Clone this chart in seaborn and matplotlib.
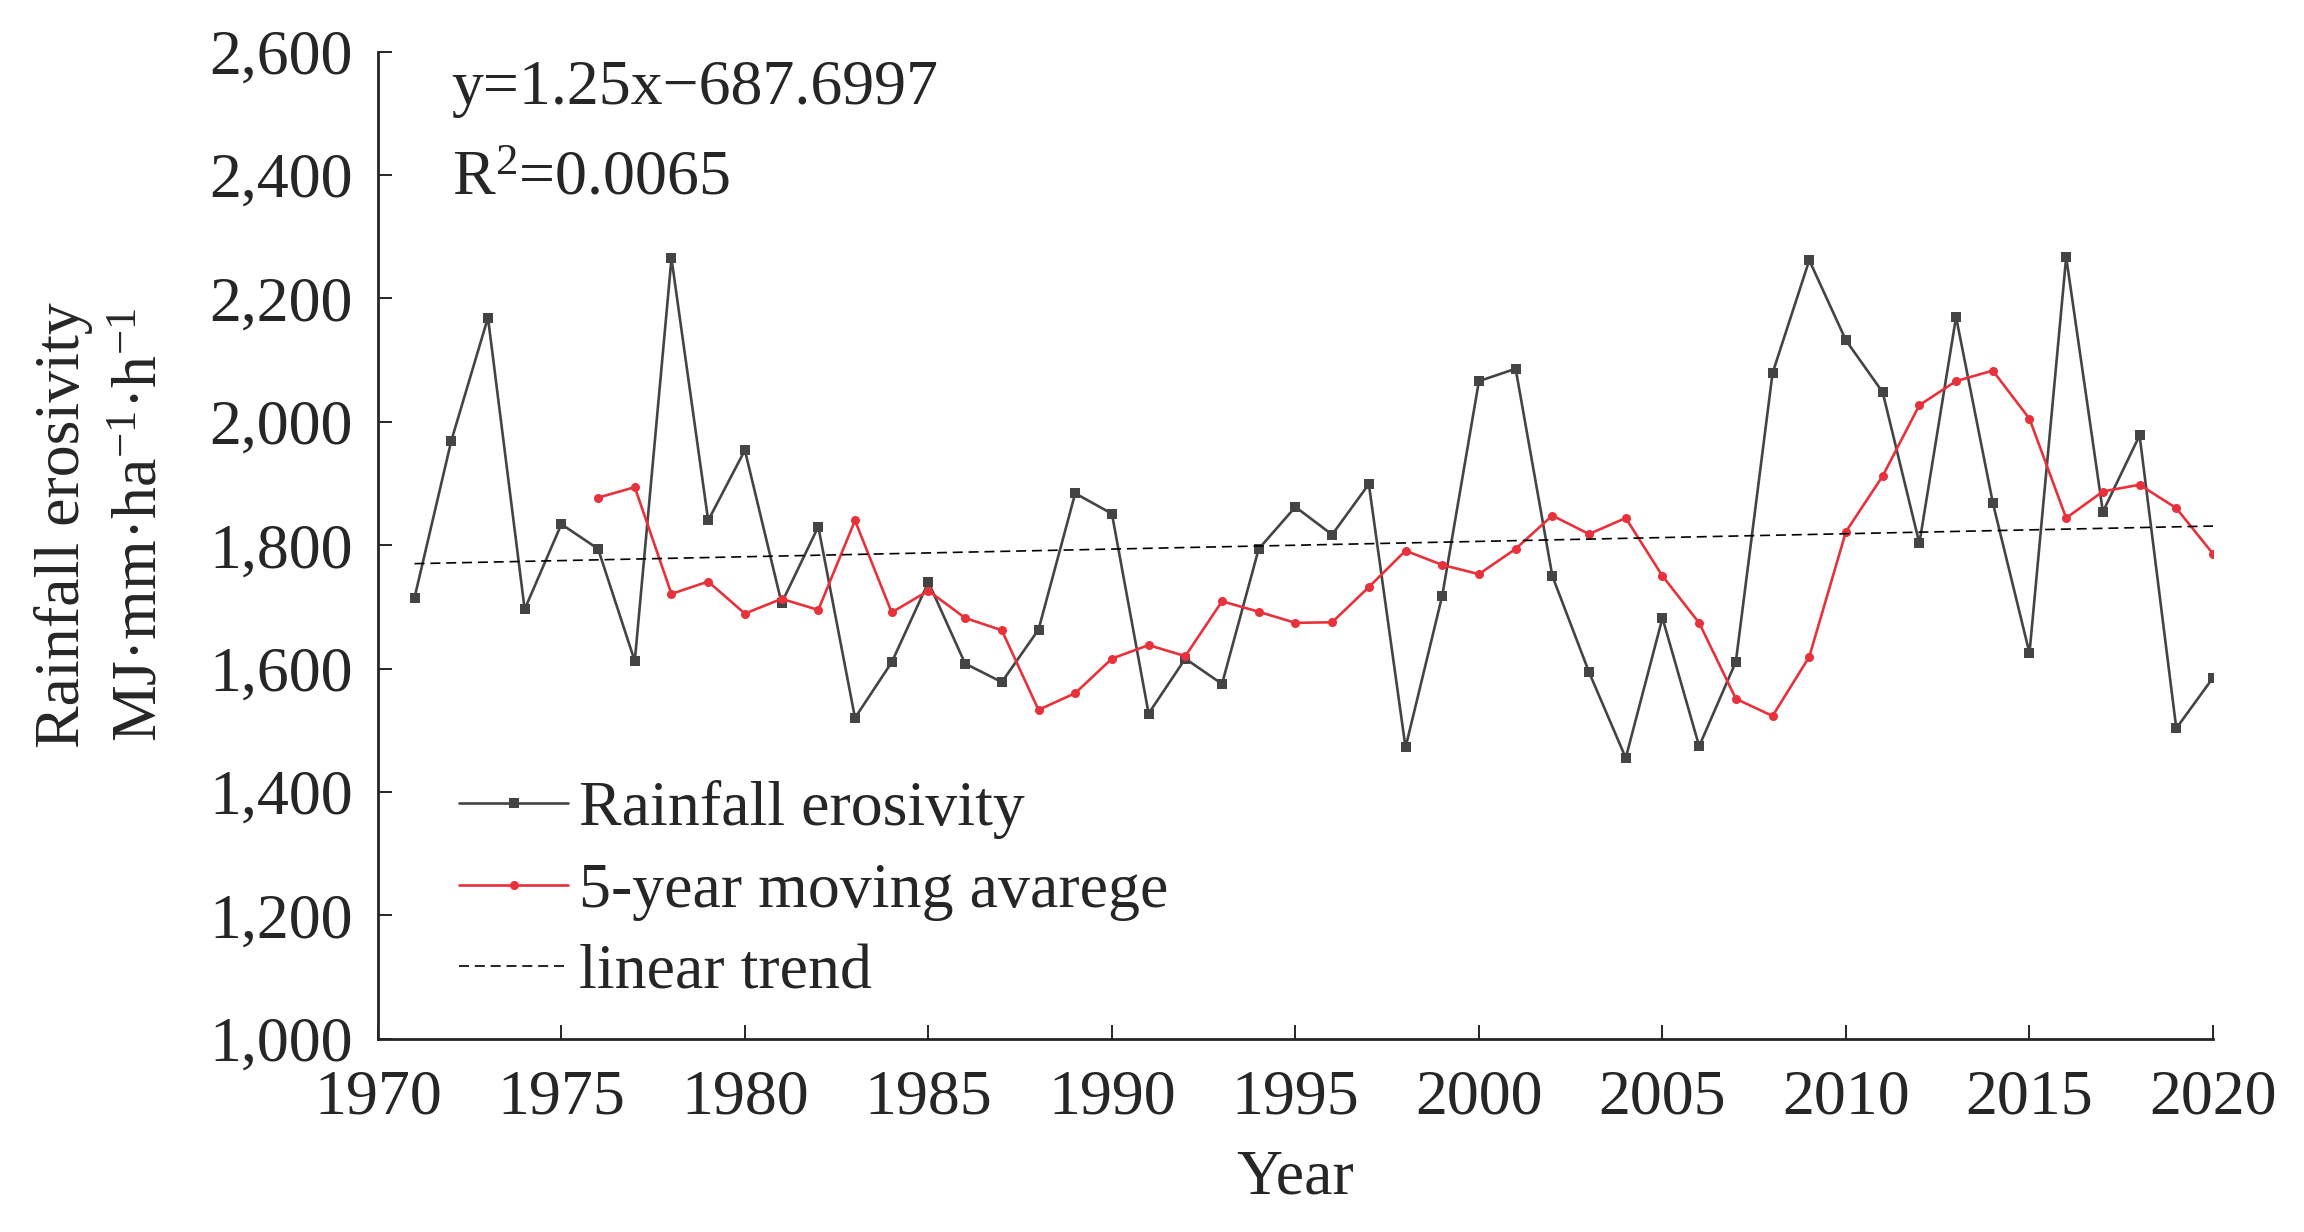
import numpy as np
import pandas as pd
import matplotlib
matplotlib.use("Agg")
import matplotlib.pyplot as plt
import matplotlib.ticker as mticker
import seaborn as sns

# data
years = list(range(1971, 2021))
rainfall = [1715, 1969, 2169, 1696, 1834, 1794, 1612, 2265, 1840, 1954,
            1706, 1830, 1520, 1610, 1740, 1608, 1578, 1663, 1884, 1851,
            1527, 1616, 1575, 1794, 1862, 1817, 1899, 1472, 1718, 2066,
            2086, 1750, 1594, 1455, 1682, 1474, 1611, 2079, 2262, 2132,
            2048, 1803, 2170, 1869, 1625, 2267, 1854, 1978, 1503, 1585]
ma_years = list(range(1976, 2021))
moving_avg = [1877, 1894, 1721, 1741, 1689, 1713, 1695, 1840, 1691, 1726,
              1682, 1662, 1533, 1560, 1616, 1638, 1620, 1709, 1692, 1674,
              1675, 1732, 1791, 1768, 1753, 1794, 1848, 1818, 1844, 1750,
              1674, 1551, 1523, 1619, 1822, 1912, 2027, 2066, 2083, 2005,
              1844, 1887, 1898, 1860, 1786]
trend_years = [1971, 2020]
trend_values = [1770, 1831]
x_ticks = list(range(1970, 2021, 5))
y_ticks = list(range(1000, 2601, 200))

df = pd.DataFrame({"Year": years, "Rainfall": rainfall})
df_ma = pd.DataFrame({"Year": ma_years, "MA": moving_avg})
df_tr = pd.DataFrame({"Year": trend_years, "Trend": trend_values})

sns.set_style("ticks")
plt.rcParams["font.family"] = ["Liberation Serif", "DejaVu Serif"]
plt.rcParams["mathtext.fontset"] = "custom"
plt.rcParams["mathtext.rm"] = "Liberation Serif"
plt.rcParams["mathtext.it"] = "Liberation Serif:italic"
fs = 46

fig = plt.figure(figsize=(23.04, 12.32), dpi=100)
ax = fig.add_axes([0.164, 0.157, 0.7965, 0.801])

sns.lineplot(data=df, x="Year", y="Rainfall", ax=ax, color="#444444",
             linewidth=1.9, marker="s", markersize=7, markeredgewidth=0,
             label="Rainfall erosivity")
sns.lineplot(data=df_ma, x="Year", y="MA", ax=ax, color="#e8313a",
             linewidth=1.9, marker="o", markersize=6.5, markeredgewidth=0,
             label="5-year moving avarege")
sns.lineplot(data=df_tr, x="Year", y="Trend", ax=ax, color="black",
             linewidth=1.2, dashes=False, label="linear trend")
ax.lines[-1].set_dashes((6, 3.5))

ax.set_xlim(1970, 2020)
ax.set_ylim(1000, 2600)
ax.set_xticks(x_ticks)
ax.set_yticks(y_ticks)
ax.yaxis.set_major_formatter(mticker.StrMethodFormatter("{x:,.0f}"))
ax.tick_params(direction="in", length=10, width=1.4, labelsize=fs)
ax.tick_params(axis="x", pad=22)
ax.tick_params(axis="y", pad=18)
for s in ["left", "bottom"]:
    ax.spines[s].set_linewidth(2)
sns.despine(ax=ax)

ax.set_xlabel("Year", fontsize=fs, labelpad=16)
ax.set_ylabel("Rainfall erosivity\nMJ·mm·ha$^{-1}$·h$^{-1}$", fontsize=fs,
              linespacing=1.45)
ax.yaxis.set_label_coords(-0.113, 0.52)

fig.text(0.196, 0.9156, "y=1.25x\u2212687.6997", fontsize=fs, va="baseline")
fig.text(0.196, 0.8425, "R$^2$=0.0065", fontsize=fs, va="baseline")

ax.legend(loc="center left", bbox_to_anchor=(0.044, 0.149), frameon=False,
          fontsize=fs, handlelength=1.72, handletextpad=0.17,
          labelspacing=0.36, borderpad=0, borderaxespad=0)

fig.savefig("out.png", dpi=100)
